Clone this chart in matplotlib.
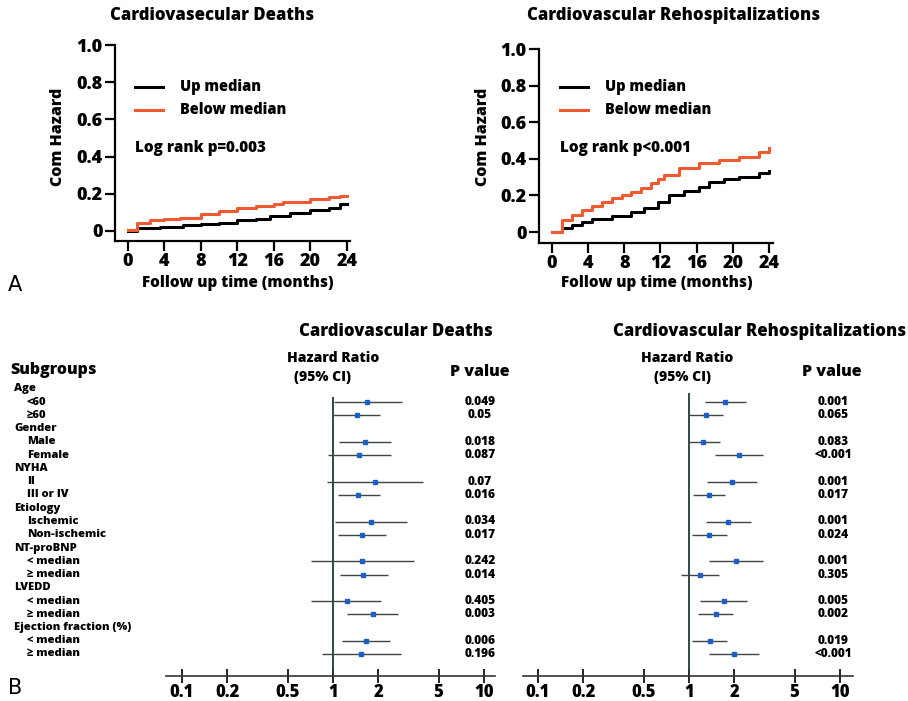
import matplotlib
matplotlib.use("Agg")
import matplotlib.pyplot as plt
import matplotlib.transforms as mtransforms
import numpy as np

plt.rcParams['font.family'] = ['Open Sans', 'DejaVu Sans']
plt.rcParams['font.weight'] = 800

# Kaplan-Meier style cumulative hazard (step curves)
death_up_t = [0, 1, 3.5, 6, 8, 10, 12, 14, 15.6, 17.8, 20, 22, 23.2, 24]
death_up_y = [0, 0.015, 0.023, 0.030, 0.036, 0.045, 0.059, 0.065, 0.082, 0.095, 0.113, 0.122, 0.143, 0.143]
death_below_t = [0, 1, 2.4, 4, 5.7, 8, 10, 12, 14, 16, 17, 20, 22, 23.2, 24]
death_below_y = [0.004, 0.041, 0.059, 0.065, 0.072, 0.090, 0.105, 0.122, 0.135, 0.147, 0.158, 0.172, 0.180, 0.190, 0.190]

rehosp_up_t = [0, 1.1, 2.2, 3.3, 4.4, 6.6, 8.8, 10.2, 11.7, 13, 14.6, 16.3, 17.4, 19, 20.7, 22.9, 24]
rehosp_up_y = [0, 0.020, 0.038, 0.056, 0.069, 0.087, 0.111, 0.130, 0.162, 0.202, 0.226, 0.248, 0.275, 0.288, 0.302, 0.320, 0.335]
rehosp_below_t = [0, 1.1, 2.2, 3.3, 4.4, 5.5, 6.6, 7.7, 8.8, 9.9, 11, 11.7, 12.4, 14.1, 16.3, 18.5, 20.7, 22.9, 24]
rehosp_below_y = [0, 0.066, 0.093, 0.120, 0.142, 0.166, 0.184, 0.202, 0.220, 0.239, 0.266, 0.290, 0.311, 0.348, 0.375, 0.393, 0.411, 0.439, 0.457]

# forest plot
row_labels = ["Age", "<60", "≥60", "Gender", "Male", "Female", "NYHA", "II", "III or IV",
              "Etiology", "Ischemic", "Non-ischemic", "NT-proBNP", "< median", "≥ median",
              "LVEDD", "< median", "≥ median", "Ejection fraction (%)", "< median", "≥ median"]
is_header = [1, 0, 0, 1, 0, 0, 1, 0, 0, 1, 0, 0, 1, 0, 0, 1, 0, 0, 1, 0, 0]

death_hr = [1.69, 1.45, 1.63, 1.49, 1.91, 1.47, 1.79, 1.56, 1.56, 1.58, 1.24, 1.85, 1.66, 1.54]
death_lo = [1.01, 1.00, 1.10, 0.93, 0.91, 1.08, 1.03, 1.08, 0.71, 1.11, 0.72, 1.24, 1.15, 0.84]
death_hi = [2.88, 2.06, 2.44, 2.44, 3.92, 2.06, 3.11, 2.26, 3.42, 2.33, 2.09, 2.71, 2.40, 2.80]
death_p = ["0.049", "0.05", "0.018", "0.087", "0.07", "0.016", "0.034", "0.017",
           "0.242", "0.014", "0.405", "0.003", "0.006", "0.196"]

rehosp_hr = [1.72, 1.29, 1.24, 2.13, 1.92, 1.35, 1.80, 1.35, 2.04, 1.18, 1.70, 1.50, 1.37, 1.98]
rehosp_lo = [1.27, 0.99, 0.99, 1.48, 1.31, 1.06, 1.29, 1.05, 1.35, 0.89, 1.18, 1.15, 1.05, 1.35]
rehosp_hi = [2.37, 1.67, 1.60, 3.11, 2.84, 1.73, 2.56, 1.78, 3.07, 1.58, 2.44, 1.95, 1.78, 2.89]
rehosp_p = ["0.001", "0.065", "0.083", "<0.001", "0.001", "0.017", "0.001", "0.024",
            "0.001", "0.305", "0.005", "0.002", "0.019", "<0.001"]

xticks_hr = [0.1, 0.2, 0.5, 1, 2, 5, 10]

W, H = 908, 701
fig = plt.figure(figsize=(W / 100, H / 100), dpi=100)
fig.patch.set_facecolor('white')


def fx(px):
    return px / W


def fy(py):
    return 1 - py / H


RED = '#f15a30'


def km_panel(rect, xlim, ylim, up_t, up_y, below_t, below_y, leg_x, txt_x, ptxt):
    ax = fig.add_axes(rect)
    ax.step(up_t, up_y, where='post', color='black', lw=2.2)
    ax.step(below_t, below_y, where='post', color=RED, lw=2.2)
    ax.set_xlim(*xlim)
    ax.set_ylim(*ylim)
    ax.set_xticks(range(0, 25, 4))
    ax.set_yticks([0, 0.2, 0.4, 0.6, 0.8, 1.0])
    ax.set_yticklabels(['0', '0.2', '0.4', '0.6', '0.8', '1.0'])
    for s in ['top', 'right']:
        ax.spines[s].set_visible(False)
    for s in ['left', 'bottom']:
        ax.spines[s].set_linewidth(1.6)
    ax.tick_params(length=7, width=1.6, labelsize=13, pad=2)
    # legend
    for yy, c, lab in [(87, 'black', 'Up median'), (110, RED, 'Below median')]:
        fig.add_artist(plt.Line2D([fx(leg_x), fx(leg_x + 28)], [fy(yy), fy(yy)], color=c, lw=2.2))
        fig.text(fx(txt_x), fy(yy), lab, fontsize=10.5, va='center', ha='left')
    fig.text(fx(leg_x), fy(148), ptxt, fontsize=11, va='center', ha='left')
    return ax


km_panel([fx(115), fy(241), 235 / W, 196 / H], (-1.42, 24.33), (-0.054, 1.0),
         death_up_t, death_up_y, death_below_t, death_below_y, 135, 180, 'Log rank p=0.003')
km_panel([fx(539), fy(243), 234 / W, 194 / H], (-1.43, 24.45), (-0.06, 1.0),
         rehosp_up_t, rehosp_up_y, rehosp_below_t, rehosp_below_y, 560, 605, 'Log rank p<0.001')

fig.text(fx(212), fy(16), 'Cardiovasecular Deaths', fontsize=12, ha='center', va='center')
fig.text(fx(674), fy(16), 'Cardiovascular Rehospitalizations', fontsize=12, ha='center', va='center')
for x in [58, 483]:
    fig.text(fx(x), fy(137), 'Com Hazard', fontsize=11.5, rotation=90, ha='center', va='center')
fig.text(fx(238), fy(283), 'Follow up time (months)', fontsize=11, ha='center', va='center')
fig.text(fx(657), fy(283), 'Follow up time (months)', fontsize=11, ha='center', va='center')
fig.text(fx(8), fy(285), 'A', fontsize=15, fontweight='normal', family='DejaVu Sans', ha='left', va='center')
fig.text(fx(8), fy(688), 'B', fontsize=15, fontweight='normal', family='DejaVu Sans', ha='left', va='center')

# forest panels
ROW0, STEP = 389, 13.25
data_rows = [i for i, h in enumerate(is_header) if not h]


def forest_panel(left_px, right_px, top_px, one_px, hr, lo, hi, pv, p_x, title_x, hr_x, ci_x, pval_x, title):
    ax = fig.add_axes([fx(left_px), fy(676), (right_px - left_px) / W, (676 - top_px) / H])
    ax.set_xscale('log')
    ax.set_xlim(10 ** (-(one_px - left_px) / 151.0), 10 ** ((right_px - one_px) / 151.0))
    ax.set_ylim((676 - ROW0) / STEP, (top_px - ROW0) / STEP)
    ax.axvline(1, color='#1e3a3a', lw=1.3)
    ys = np.array(data_rows)
    ax.hlines(ys, lo, hi, color='#3c4646', lw=1.0)
    ax.plot(hr, ys, 's', color='#1f5fc4', ms=2.8, mec='#1f5fc4')
    for s in ['top', 'right', 'left']:
        ax.spines[s].set_visible(False)
    ax.spines['bottom'].set_linewidth(1.2)
    ax.spines['bottom'].set_color('#333333')
    ax.set_yticks([])
    ax.set_xticks(xticks_hr)
    ax.set_xticklabels([str(v) for v in xticks_hr])
    ax.xaxis.set_minor_locator(matplotlib.ticker.NullLocator())
    ax.tick_params(axis='x', direction='inout', length=10, width=1.2, labelsize=12, pad=0.5)
    tr = mtransforms.blended_transform_factory(fig.transFigure, ax.transData)
    for y, p in zip(ys, pv):
        ax.text(fx(p_x), y, p, transform=tr, fontsize=8.6, ha='center', va='center', clip_on=False)
    fig.text(fx(title_x), fy(331), title, fontsize=12, ha='center', va='center')
    fig.text(fx(hr_x), fy(358), 'Hazard Ratio', fontsize=10, ha='center', va='center')
    fig.text(fx(ci_x), fy(377), '(95% CI)', fontsize=10, ha='center', va='center')
    fig.text(fx(pval_x), fy(372), 'P value', fontsize=11.5, ha='center', va='center')
    return ax, tr


axL, trL = forest_panel(166, 495, 397, 333, death_hr, death_lo, death_hi, death_p,
                        480, 396, 333, 322, 480, 'Cardiovascular Deaths')
axR, trR = forest_panel(523, 853, 393, 689, rehosp_hr, rehosp_lo, rehosp_hi, rehosp_p,
                        833, 760, 687, 683, 832, 'Cardiovascular Rehospitalizations')

fig.text(fx(10), fy(370), 'Subgroups', fontsize=11.5, ha='left', va='center')
for i, (lab, h) in enumerate(zip(row_labels, is_header)):
    axL.text(fx(14 if h else 27), i, lab, transform=trL, fontsize=8.1,
             ha='left', va='center', clip_on=False)

fig.savefig('out.png', dpi=100, facecolor='white')
